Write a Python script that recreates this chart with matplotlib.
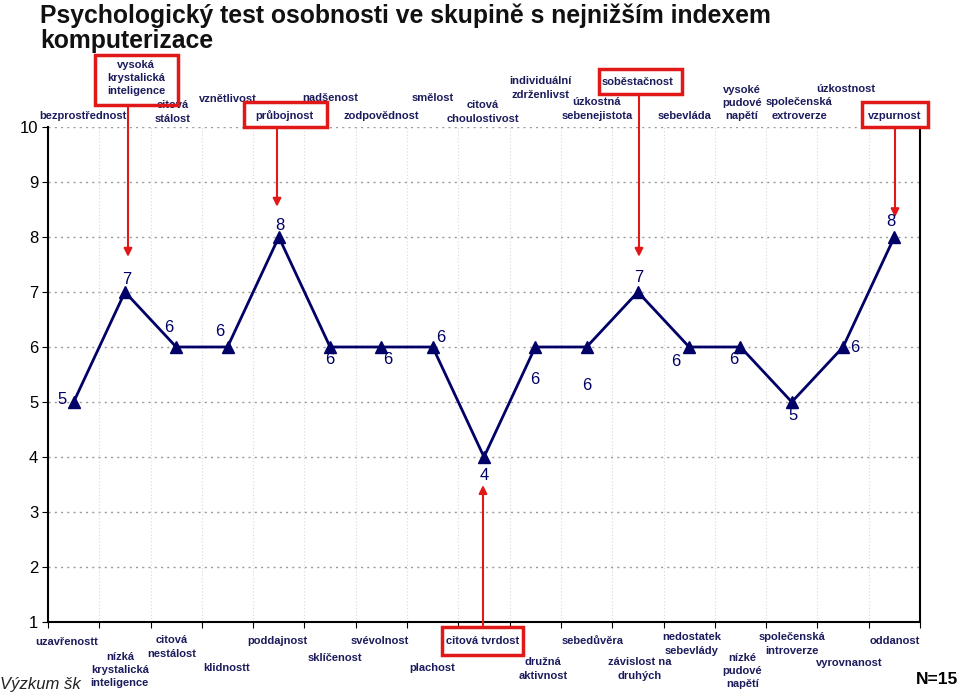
import numpy as np
import matplotlib as mpl
mpl.use('Agg')
import matplotlib.pyplot as plt
from matplotlib.patches import Rectangle
from matplotlib.transforms import blended_transform_factory

# skóre pro 17 osobnostních faktorů
scores = [5, 7, 6, 6, 8, 6, 6, 6, 4, 6, 6, 7, 6, 6, 5, 6, 8]

# horní póly (vysoké skóre)
high_labels = ['bezprostřednost', 'vysoká\nkrystalická\ninteligence', 'citová\nstálost',
               'vznětlivost', 'průbojnost', 'nadšenost', 'zodpovědnost', 'smělost',
               'citová\nchoulostivost', 'individuální\nzdrženlivst', 'úzkostná\nsebenejistota',
               'soběstačnost', 'sebevláda', 'vysoké\npudové\nnapětí',
               'společenská\nextroverze', 'úzkostnost', 'vzpurnost']

# dolní póly (nízké skóre)
low_labels = ['uzavřenostt', 'nízká\nkrystalická\ninteligence', 'citová\nnestálost',
              'klidnostt', 'poddajnost', 'sklíčenost', 'svévolnost', 'plachost',
              'citová tvrdost', 'družná\naktivnost', 'sebedůvěra', 'závislost na\ndruhých',
              'nedostatek\nsebevlády', 'nízké\npudové\nnapětí', 'společenská\nintroverze',
              'vyrovnanost', 'oddanost']

title = 'Psychologický test osobnosti ve skupině s nejnižším indexem\nkomputerizace'

# zvýrazněné faktory (index, horní/dolní)
highlight = [(1, 'top'), (4, 'top'), (11, 'top'), (16, 'top'), (8, 'bottom')]

# --- layout (pixels, figure is 960x696) ---
H = 696
navy = '#000066'
lab_col = '#1c1c5c'
red = '#e01818'

# label placement: (x shift in categories, y pixel from top)
high_pos = [(0.18, 116), (0.22, 78), (-0.07, 112), (0.0, 99), (0.1, 116), (0.0, 98),
            (0.0, 116), (0.0, 98), (-0.02, 112), (0.1, 88), (0.2, 109), (0.0, 82),
            (-0.1, 116), (0.03, 103), (0.15, 109), (0.05, 89), (0.0, 116)]
low_pos = [(-0.13, 642), (-0.1, 670), (-0.08, 647), (-0.02, 668), (-0.03, 641), (0.1, 658),
           (-0.03, 641), (0.0, 668), (-0.02, 641), (0.15, 669), (0.12, 641), (0.04, 669),
           (0.05, 644), (0.04, 671), (0.0, 644), (0.12, 663), (0.0, 641)]
# value label offsets in pixels
val_off = [(-12, 2), (2, 13), (-7, 20), (-8, 16), (1, 12), (0, -13), (6, -13), (8, 10),
           (0, -19), (-1, -33), (0, -38), (1, 14), (-13, -15), (-7, -13), (1, -14),
           (12, 0), (-3, 15)]
# red boxes: (x0, y0, x1, y1) pixels, arrow tip offset in data units
boxes = {1: (95, 55, 178, 105), 4: (244, 102, 327, 127), 11: (599, 69, 682, 94),
         16: (862, 102, 928, 127), 8: (442, 627, 523, 655)}
arrow_x = {1: 128, 4: 277, 11: 639, 16: 895, 8: 483}
tip_dy = {1: 0.64, 4: 0.55, 11: 0.64, 16: 0.36, 8: -0.51}

plt.rcParams['font.family'] = ['Liberation Sans', 'DejaVu Sans']

fig = plt.figure(figsize=(9.6, 6.96), dpi=100)
ax = fig.add_axes([48 / 960, 1 - 622 / H, (920 - 48) / 960, (622 - 127) / H])

x = np.arange(len(scores))
ax.plot(x, scores, color=navy, lw=2, marker='^', ms=9, mfc=navy, mec=navy, zorder=5,
        clip_on=False)

for i, v in enumerate(scores):
    ax.annotate(str(v), (i, v), xytext=val_off[i], textcoords='offset pixels',
                ha='center', va='center', fontsize=12, color=navy, zorder=6)

ax.set_xlim(-0.5, len(scores) - 0.5)
ax.set_ylim(1, 10)
ax.set_yticks(range(1, 11))
ax.tick_params(axis='y', labelsize=12, length=4, direction='out', pad=3)
ax.set_xticks(np.arange(-0.5, len(scores), 1.0))
ax.set_xticklabels([])
ax.tick_params(axis='x', length=4, direction='out')

for yv in range(1, 11):
    ax.axhline(yv, color='#9a9a9a', lw=1, ls=(0, (1.5, 3)), zorder=1)
for xv in np.arange(0.5, len(scores) - 1, 1.0):
    ax.axvline(xv, color='#d8d8d8', lw=0.8, ls=(0, (1, 2)), zorder=1)

ax.spines['top'].set_visible(False)
ax.spines['left'].set_linewidth(1.5)
ax.spines['right'].set_linewidth(1.5)
ax.spines['bottom'].set_linewidth(1.5)

tr = blended_transform_factory(ax.transData, fig.transFigure)
for i, t in enumerate(high_labels):
    dx, py = high_pos[i]
    ax.text(i + dx, 1 - py / H, t, transform=tr, ha='center', va='center',
            fontsize=8, fontweight='bold', color=lab_col, linespacing=1.4,
            clip_on=False, zorder=3)
for i, t in enumerate(low_labels):
    dx, py = low_pos[i]
    ax.text(i + dx, 1 - py / H, t, transform=tr, ha='center', va='center',
            fontsize=8, fontweight='bold', color=lab_col, linespacing=1.4,
            clip_on=False, zorder=3, bbox=dict(fc='white', ec='none', pad=0.5))

# red boxes and arrows
for i, side in highlight:
    x0, y0, x1, y1 = boxes[i]
    fig.patches.append(Rectangle((x0 / 960, 1 - y1 / H), (x1 - x0) / 960, (y1 - y0) / H,
                                 transform=fig.transFigure, fill=False, ec=red, lw=2.5,
                                 zorder=4))
    start_y = y1 if side == 'top' else y0
    ax.annotate('', xy=(arrow_x[i], scores[i] + tip_dy[i]),
                xycoords=('figure pixels', 'data'),
                xytext=(arrow_x[i], H - start_y), textcoords='figure pixels',
                arrowprops=dict(arrowstyle='-|>', color=red, lw=1.5,
                                mutation_scale=12, shrinkA=0, shrinkB=0),
                annotation_clip=False, zorder=4)

fig.text(40 / 960, 1 - 3 / H, title, ha='left', va='top', fontsize=17.8,
         fontweight='bold', color='#111111', linespacing=1.08)
fig.text(0.0, 1 - 684 / H, 'Výzkum šk', ha='left', va='center', fontsize=12,
         fontstyle='italic', color='#222222', zorder=0)
fig.text(958 / 960, 1 - 680 / H, 'N=15', ha='right', va='center', fontsize=12.5,
         fontweight='bold', color='black')

fig.savefig('out.png', dpi=100)
